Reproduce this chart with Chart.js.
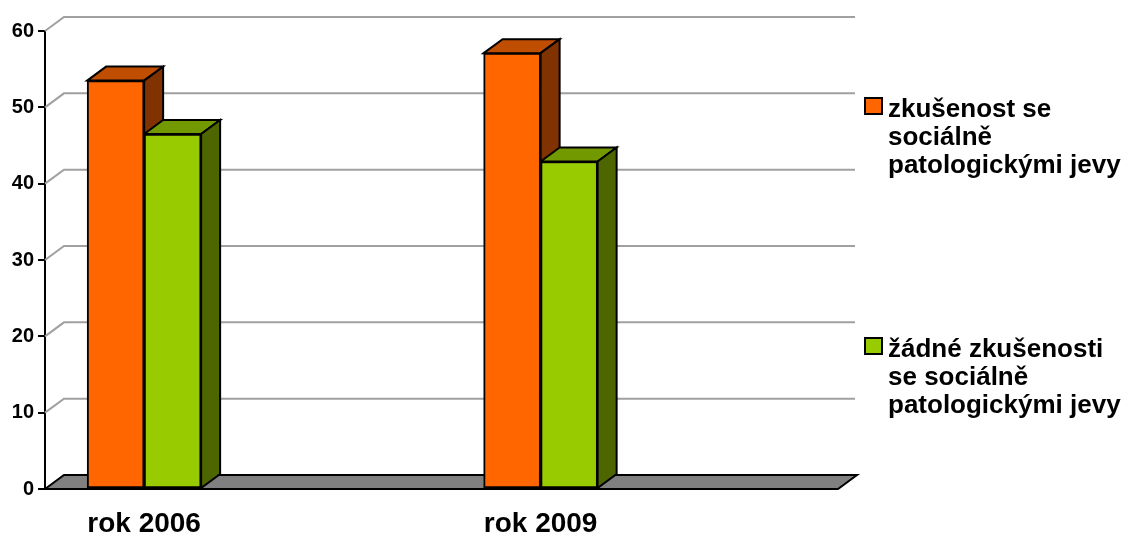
<!DOCTYPE html>
<html>
<head>
<meta charset="utf-8">
<script src="https://cdn.jsdelivr.net/npm/chart.js@4/dist/chart.umd.min.js"></script>
<style>
  html, body { margin: 0; padding: 0; background: #fff; }
  #wrap { width: 1128px; height: 534px; position: relative; }
</style>
</head>
<body>
<div id="wrap"><canvas id="chart"></canvas></div>
<script>
const categories = ["rok 2006", "rok 2009"];
const seriesNames = [
  ["zkušenost se", "sociálně", "patologickými jevy"],
  ["žádné zkušenosti", "se sociálně", "patologickými jevy"]
];
const experienceValues = [53.5, 57.1];
const noExperienceValues = [46.5, 42.9];
const yTicks = [0, 10, 20, 30, 40, 50, 60];

const FONT = "'Liberation Sans', Arial, sans-serif";
const DX = 19;
const DY = -14;

// front, top, side colours per series
const shades = [
  { front: "#ff6600", top: "#c04e00", side: "#803300" },
  { front: "#99cc00", top: "#739900", side: "#4d6600" }
];

function poly(ctx, pts, fill) {
  ctx.beginPath();
  ctx.moveTo(pts[0][0], pts[0][1]);
  for (let k = 1; k < pts.length; k++) ctx.lineTo(pts[k][0], pts[k][1]);
  ctx.closePath();
  ctx.fillStyle = fill;
  ctx.fill();
  ctx.stroke();
}

const depthPlugin = {
  id: "depth",
  beforeDatasetsDraw(chart) {
    const { ctx, chartArea: a, scales } = chart;
    const y = scales.y;
    ctx.save();

    // back wall gridlines
    ctx.strokeStyle = "#a0a0a0";
    ctx.lineWidth = 2;
    yTicks.forEach((v) => {
      if (v === 0) return;
      const py = y.getPixelForValue(v);
      ctx.beginPath();
      ctx.moveTo(a.left, py);
      ctx.lineTo(a.left + DX, py + DY);
      ctx.lineTo(a.right + DX - 2, py + DY);
      ctx.stroke();
    });

    // floor
    ctx.strokeStyle = "#000";
    ctx.lineWidth = 2;
    ctx.lineJoin = "miter";
    poly(ctx, [
      [a.left, a.bottom],
      [a.left + DX, a.bottom + DY],
      [a.right + DX, a.bottom + DY],
      [a.right, a.bottom]
    ], "#808080");

    // top and side faces of the bars
    categories.forEach((c, i) => {
      chart.data.datasets.forEach((ds, d) => {
        const bar = chart.getDatasetMeta(d).data[i];
        const p = bar.getProps(["x", "y", "base", "width"], true);
        const left = p.x - p.width / 2;
        const right = p.x + p.width / 2;
        poly(ctx, [
          [left, p.y],
          [left + DX, p.y + DY],
          [right + DX, p.y + DY],
          [right, p.y]
        ], shades[d].top);
        poly(ctx, [
          [right, p.y],
          [right + DX, p.y + DY],
          [right + DX, p.base + DY],
          [right, p.base]
        ], shades[d].side);
      });
    });
    ctx.restore();
  },
  afterDraw(chart) {
    const ctx = chart.ctx;
    ctx.save();
    const boxTops = [97, 337];
    ctx.font = "bold 26px " + FONT;
    ctx.textBaseline = "alphabetic";
    seriesNames.forEach((lines, d) => {
      ctx.fillStyle = shades[d].front;
      ctx.strokeStyle = "#000";
      ctx.lineWidth = 2;
      ctx.fillRect(865, boxTops[d] + 1, 17, 16);
      ctx.strokeRect(865, boxTops[d] + 1, 17, 16);
      ctx.fillStyle = "#000";
      lines.forEach((t, k) => {
        ctx.fillText(t, 888, boxTops[d] + 20 + k * 28);
      });
    });
    ctx.restore();
  }
};

new Chart(document.getElementById("chart"), {
  type: "bar",
  data: {
    datasets: [
      {
        label: seriesNames[0].join(" "),
        data: experienceValues.map((v, i) => ({ x: i, y: v })),
        backgroundColor: shades[0].front
      },
      {
        label: seriesNames[1].join(" "),
        data: noExperienceValues.map((v, i) => ({ x: i, y: v })),
        backgroundColor: shades[1].front
      }
    ]
  },
  options: {
    responsive: true,
    maintainAspectRatio: false,
    animation: false,
    layout: { padding: { top: 31, right: 290, left: 0, bottom: 0 } },
    datasets: {
      bar: {
        barThickness: 57,
        borderWidth: 2,
        borderColor: "#000",
        borderSkipped: false
      }
    },
    plugins: {
      legend: { display: false },
      tooltip: { enabled: false }
    },
    scales: {
      x: {
        type: "linear",
        offset: false,
        min: -0.25,
        max: 1.75,
        afterBuildTicks: (s) => {
          s.ticks = categories.map((c, i) => ({ value: i }));
        },
        afterFit: (s) => { s.height = 45; },
        ticks: {
          callback: (v) => categories[v],
          color: "#000",
          maxRotation: 0,
          autoSkip: false,
          padding: 10,
          font: { family: FONT, size: 28, weight: "bold" }
        },
        grid: { display: false, offset: false },
        border: { display: false }
      },
      y: {
        min: 0,
        max: 60,
        afterFit: (s) => { s.width = 45; },
        ticks: {
          stepSize: 10,
          color: "#000",
          padding: 4,
          font: { family: FONT, size: 20, weight: "bold" }
        },
        grid: {
          drawOnChartArea: false,
          drawTicks: true,
          tickLength: 7,
          color: "#000",
          lineWidth: 2
        },
        border: { display: true, color: "#000", width: 2 }
      }
    }
  },
  plugins: [depthPlugin]
});
</script>
</body>
</html>
